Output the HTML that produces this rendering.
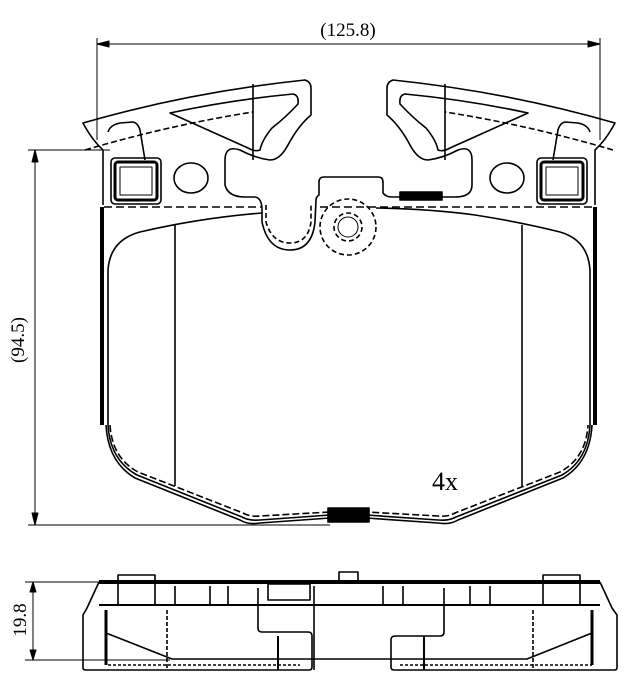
<!DOCTYPE html>
<html><head><meta charset="utf-8"><style>
html,body{margin:0;padding:0;background:#fff;}
svg{display:block;}
text{font-family:"Liberation Serif",serif;fill:#000;}
</style></head><body>
<svg width="628" height="693" viewBox="0 0 628 693" xmlns="http://www.w3.org/2000/svg" fill="none" stroke="#000" stroke-width="1.6" stroke-linejoin="round">
<!-- dimensions -->
<g stroke-width="1">
<line x1="97" y1="38" x2="97" y2="140"/>
<line x1="600" y1="38" x2="600" y2="140"/>
<line x1="97" y1="44" x2="600" y2="44"/>
<path d="M97,44 l12,-3 v6 z M600,44 l-12,-3 v6 z" fill="#000"/>
<line x1="28" y1="150" x2="110" y2="150"/>
<line x1="28" y1="525" x2="330" y2="525"/>
<line x1="35" y1="150" x2="35" y2="525"/>
<path d="M35,150 l-3,12 h6 z M35,525 l-3,-12 h6 z" fill="#000"/>
<line x1="25" y1="582" x2="100" y2="582"/>
<line x1="25" y1="660" x2="170" y2="660"/>
<line x1="33" y1="582" x2="33" y2="660"/>
<path d="M33,582 l-3,10 h6 z M33,660 l-3,-10 h6 z" fill="#000"/>
</g>
<text x="348" y="36" font-size="19" text-anchor="middle" stroke="none">(125.8)</text>
<text x="0" y="0" font-size="19" text-anchor="middle" stroke="none" transform="translate(24,340) rotate(-90)">(94.5)</text>
<text x="0" y="0" font-size="19" text-anchor="middle" stroke="none" transform="translate(26,620) rotate(-90)">19.8</text>
<text x="432" y="490" font-size="26" stroke="none">4x</text>

<!-- backplate top contour -->
<path d="M103,205 L103,150 Q92,140 83,123 Q190,92 305,80 Q311,82 311,88 L311,115 Q298,126 288,145 Q280,160 270,160 Q255,158 240,150 Q225,145 225,160 L225,185 Q228,197 245,197 L255,197 Q262,198 262,210 L262,222 Q268,250 290,250 Q312,250 315,222 L316,200 Q316,197 319,195 L319,182 Q319,177 324,177 L378,177 Q383,177 383,182 L383,193 Q386,197 392,197 L400,197 L442,197 L455,197 Q472,197 472,185 L472,160 Q472,145 458,150 Q443,158 428,160 Q418,160 410,145 Q400,126 387,115 L387,88 Q387,82 393,80 Q508,92 615,123 Q606,140 595,150 L595,205"/>
<path d="M266,205 L266,222 Q272,243 290,243 Q308,243 311,222 L311,205" stroke-dasharray="5,3"/>
<rect x="400" y="192" width="42" height="8" fill="#000"/>
<!-- ears shim -->
<path d="M170,113 Q230,100 293,94 Q299,95 298,104 Q285,118 272,128 Q262,140 260,150 Q255,152 248,148 Z"/>
<path d="M528,113 Q468,100 405,94 Q399,95 400,104 Q413,118 426,128 Q436,140 438,150 Q443,152 450,148 Z"/>
<line x1="253" y1="84" x2="253" y2="160"/>
<line x1="445" y1="84" x2="445" y2="160"/>
<path d="M85,150 Q170,125 253,112" stroke-dasharray="6,3"/>
<path d="M613,150 Q528,125 445,112" stroke-dasharray="6,3"/>
<path d="M108,132 Q110,125 120,123 L133,122 Q138,123 140,130 L145,160"/>
<path d="M590,132 Q588,125 578,123 L565,122 Q560,123 558,130 L553,160"/>
<!-- squares -->
<rect x="111" y="158" width="50" height="46" rx="4"/>
<rect x="115" y="162" width="42" height="38" rx="3" stroke-width="3"/>
<rect x="120" y="167" width="32" height="28" stroke-width="1"/>
<rect x="537" y="158" width="50" height="46" rx="4"/>
<rect x="541" y="162" width="42" height="38" rx="3" stroke-width="3"/>
<rect x="546" y="167" width="32" height="28" stroke-width="1"/>
<ellipse cx="191" cy="178" rx="17" ry="15"/>
<ellipse cx="507" cy="178" rx="17" ry="15"/>
<circle cx="348" cy="227" r="28" stroke-dasharray="5,3"/>
<circle cx="348" cy="227" r="14" stroke-dasharray="5,3"/>
<circle cx="348" cy="227" r="10" stroke-width="1"/>
<!-- main body -->
<line x1="104" y1="207" x2="262" y2="207" stroke-dasharray="8,4"/>
<line x1="320" y1="207" x2="595" y2="207" stroke-dasharray="8,4"/>
<path d="M102,207 L102,425" stroke-width="4"/>
<path d="M595,207 L595,425" stroke-width="4"/>
<path d="M106,425 Q108,462 135,478 L240,520 Q248,525 260,523 L330,518 L366,518 L438,523 Q450,525 458,520 L563,478 Q590,462 592,425"/>
<path d="M110,425 Q112,458 138,472 L243,513 Q250,517 260,516 L330,512 L366,512 L438,516 Q448,517 455,513 L560,472 Q586,458 588,425" stroke-dasharray="7,3"/>
<path d="M108,425 Q110,460 137,475 L242,517 Q249,521 260,520 L330,515 L366,515 L438,520 Q449,521 456,517 L562,475 Q588,460 590,425 L590,270 Q588,240 560,232 Q520,222 475,215 Q430,209 376,208"/>
<path d="M108,425 L108,270 Q110,240 140,232 Q200,218 262,213"/>
<rect x="328" y="508" width="41" height="14" fill="#000"/>
<line x1="175" y1="225" x2="175" y2="486"/>
<line x1="522" y1="225" x2="522" y2="486"/>

<!-- side view -->
<path d="M99,582 L600,582" stroke-width="4"/>
<path d="M99,582 L87,608 L83,615 L83,668 Q83,670 86,670 L309,670 Q312,670 312,667 L312,636 Q312,632 308,632 L262,632 Q258,632 258,628 L258,588"/>
<path d="M600,582 L612,608 L617,615 L617,668 Q617,670 614,670 L394,670 Q391,670 391,667 L391,640 Q391,636 395,636 L440,636 Q444,636 444,632 L444,588"/>
<line x1="99" y1="605" x2="600" y2="605" stroke-width="2"/>
<rect x="118" y="575" width="37" height="30"/>
<rect x="543" y="575" width="37" height="30"/>
<rect x="339" y="572" width="19" height="10"/>
<rect x="268" y="584" width="42" height="16"/>
<line x1="106" y1="610" x2="106" y2="665" stroke-width="3"/>
<line x1="592" y1="610" x2="592" y2="665" stroke-width="3"/>
<line x1="167" y1="610" x2="167" y2="670" stroke-dasharray="4,2"/>
<line x1="533" y1="610" x2="533" y2="670" stroke-dasharray="4,2"/>
<path d="M106,633 L172,659 L527,659 L592,633"/>
<line x1="108" y1="665" x2="300" y2="665" stroke-dasharray="3,2"/>
<line x1="400" y1="665" x2="592" y2="665" stroke-dasharray="3,2"/>
<line x1="278" y1="636" x2="278" y2="670" stroke-width="2"/>
<line x1="424" y1="636" x2="424" y2="670" stroke-width="2"/>
<line x1="314" y1="586" x2="314" y2="670"/>
<line x1="175" y1="586" x2="175" y2="605"/>
<line x1="210" y1="586" x2="210" y2="605"/>
<line x1="228" y1="586" x2="228" y2="605"/>
<line x1="383" y1="586" x2="383" y2="605"/>
<line x1="403" y1="586" x2="403" y2="605"/>
<line x1="470" y1="586" x2="470" y2="605"/>
<line x1="490" y1="586" x2="490" y2="605"/>
</svg>
</body></html>
